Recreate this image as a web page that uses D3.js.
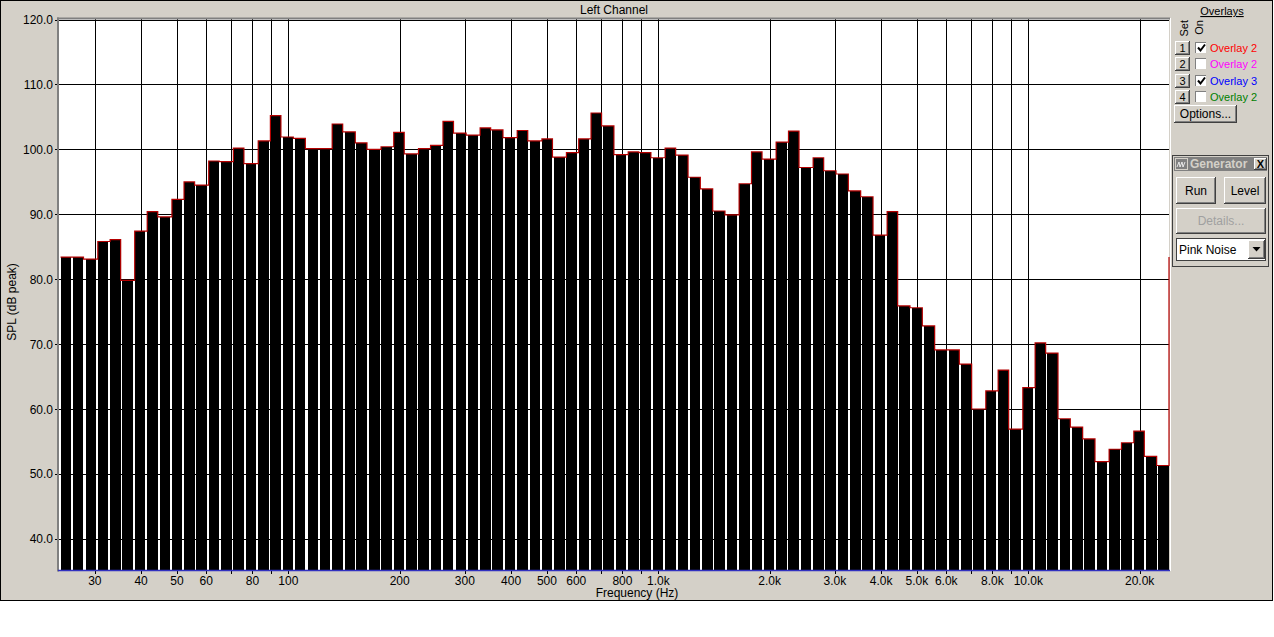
<!DOCTYPE html>
<html>
<head>
<meta charset="utf-8">
<script src="https://cdn.jsdelivr.net/npm/d3@7"></script>
<style>
body { margin: 0; background: #fff; }
svg { display: block; font-family: Arial, "Liberation Sans", sans-serif; }
</style>
</head>
<body>
<div id="vis"></div>
<script>
var width = 1274,
    height = 637;

//--------DATA--------//
// centre frequency of each 1/30 decade band (Hz)
var bandCentres = [
  24.9, 26.9, 29.1, 31.4, 33.9, 36.6, 39.5, 42.7, 46.1, 49.8,
  53.7, 58.0, 62.6, 67.6, 73.0, 78.9, 85.2, 91.9, 99.3, 107,
  116, 125, 135, 146, 157, 170, 183, 198, 214, 231,
  249, 269, 291, 314, 339, 366, 395, 427, 461, 498,
  537, 580, 626, 676, 730, 789, 852, 919, 993, 1072,
  1158, 1250, 1350, 1457, 1574, 1699, 1835, 1981, 2139, 2310,
  2494, 2693, 2908, 3140, 3390, 3661, 3953, 4268, 4608, 4976,
  5373, 5802, 6264, 6764, 7304, 7886, 8516, 9195, 9928, 10720,
  11576, 12499, 13496, 14572, 15736, 16990, 18346, 19810, 21390, 23097
];

// SPL (dB peak) per band
var spl = [
  83.4, 83.4, 83.1, 85.8, 86.1, 79.8, 87.4, 90.4, 89.6, 92.3,
  95.0, 94.5, 98.2, 98.1, 100.2, 97.8, 101.3, 105.2, 101.9, 101.7,
  100.1, 100.1, 103.9, 102.7, 101.0, 100.0, 100.4, 102.6, 99.3, 100.1,
  100.6, 104.3, 102.5, 102.2, 103.3, 103.0, 101.8, 102.9, 101.3, 101.6,
  98.8, 99.5, 101.6, 105.6, 103.6, 99.2, 99.6, 99.5, 98.7, 100.2,
  99.1, 95.7, 93.9, 90.5, 89.9, 94.7, 99.6, 98.5, 101.1, 102.8,
  97.2, 98.7, 96.7, 96.2, 93.6, 92.7, 86.8, 90.4, 75.9, 75.6,
  72.8, 69.1, 69.1, 66.9, 60.0, 62.8, 66.0, 56.9, 63.3, 70.2,
  68.6, 58.5, 57.2, 55.4, 51.9, 53.8, 54.8, 56.6, 52.7, 51.3
];

var gridFreqs = [30, 40, 50, 60, 70, 80, 90, 100, 200, 300, 400, 500, 600, 700, 800, 900,
  1000, 2000, 3000, 4000, 5000, 6000, 7000, 8000, 9000, 10000, 20000];
var labelFreqs = [30, 40, 50, 60, 80, 100, 200, 300, 400, 500, 600, 800,
  1000, 2000, 3000, 4000, 5000, 6000, 8000, 10000, 20000];
var labelText = ["30", "40", "50", "60", "80", "100", "200", "300", "400", "500", "600", "800",
  "1.0k", "2.0k", "3.0k", "4.0k", "5.0k", "6.0k", "8.0k", "10.0k", "20.0k"];
var yTicks = [40, 50, 60, 70, 80, 90, 100, 110, 120];

var overlayNames = ["Overlay 2", "Overlay 2", "Overlay 3", "Overlay 2"];
var overlayColors = ["#ff0000", "#ff00ff", "#0000ff", "#008000"];
var overlayOn = [true, false, true, false];

//--------SETUP--------//
var plotLeft = 59, plotRight = 1169, plotTop = 19.5, plotBottom = 570;
var face = "#d4d0c8";

var svg = d3.select("#vis").append("svg")
    .attr("width", width)
    .attr("height", height);

// window background
svg.append("rect")
    .attr("x", 0.5).attr("y", 0.5)
    .attr("width", 1272).attr("height", 600)
    .attr("fill", face)
    .attr("stroke", "#000");

var x = d3.scaleLog()
    .domain([24, 24000])
    .range([plotLeft, plotRight]);

var y = d3.scaleLinear()
    .domain([35.2, 120])
    .range([plotBottom, plotTop]);

var halfBand = Math.pow(10, 1 / 60);

//--------PLOT AREA--------//
svg.append("rect")
    .attr("x", plotLeft).attr("y", 19)
    .attr("width", plotRight - plotLeft).attr("height", plotBottom - 19)
    .attr("fill", "#fff");

var grid = svg.append("g")
    .attr("stroke", "#000")
    .attr("stroke-width", 1)
    .attr("shape-rendering", "crispEdges");

grid.selectAll(".vgrid")
    .data(gridFreqs)
    .enter()
    .append("line")
    .attr("class", "vgrid")
    .attr("x1", function(d) { return Math.round(x(d)) + 0.5; })
    .attr("x2", function(d) { return Math.round(x(d)) + 0.5; })
    .attr("y1", 19)
    .attr("y2", plotBottom + 4);

grid.selectAll(".hgrid")
    .data(yTicks)
    .enter()
    .append("line")
    .attr("class", "hgrid")
    .attr("x1", plotLeft - 4)
    .attr("x2", plotRight)
    .attr("y1", function(d) { return Math.round(y(d)) + 0.5; })
    .attr("y2", function(d) { return Math.round(y(d)) + 0.5; });

// bars
svg.append("g")
    .attr("shape-rendering", "crispEdges")
  .selectAll("rect")
    .data(spl)
    .enter()
    .append("rect")
    .attr("x", function(d, i) { return x(bandCentres[i] / halfBand) + 1.8; })
    .attr("width", function(d, i) { return x(bandCentres[i] * halfBand) - x(bandCentres[i] / halfBand) - 1.8; })
    .attr("y", function(d) { return y(d); })
    .attr("height", function(d) { return plotBottom - y(d); })
    .attr("fill", "#000");

// red step outline over the bar tops
var pts = [];
spl.forEach(function(v, i) {
    var l = x(bandCentres[i] / halfBand) + 1.8,
        r = x(bandCentres[i] * halfBand);
    if (i > 0) {
        var prev = spl[i - 1];
        if (v > prev) pts.push([l, y(prev)]);
        else pts.push([pts[pts.length - 1][0], y(v)]);
    }
    pts.push([l, y(v)]);
    pts.push([r, y(v)]);
});
pts.push([pts[pts.length - 1][0], y(spl[0])]);

svg.append("path")
    .attr("d", d3.line()(pts))
    .attr("fill", "none")
    .attr("stroke", "#b40000")
    .attr("stroke-width", 1.2);

// sunken frame + blue axis
svg.append("rect").attr("x", 57).attr("y", 17.5).attr("width", 2).attr("height", plotBottom - 16)
    .attr("fill", "#808080");
svg.append("rect").attr("x", 57).attr("y", 17.5).attr("width", plotRight - 56).attr("height", 2)
    .attr("fill", "#808080");
svg.append("line").attr("x1", plotRight + 1.5).attr("x2", plotRight + 1.5).attr("y1", 18).attr("y2", plotBottom + 1)
    .attr("stroke", "#fff");
svg.append("line").attr("x1", 58).attr("x2", plotRight + 1).attr("y1", plotBottom + 0.5).attr("y2", plotBottom + 0.5)
    .attr("stroke", "#3030c0").attr("stroke-width", 1.5);

//--------AXES TEXT--------//
svg.selectAll(".xlab")
    .data(labelFreqs)
    .enter()
    .append("text")
    .attr("class", "xlab")
    .attr("x", function(d) { return x(d); })
    .attr("y", 585)
    .attr("text-anchor", "middle")
    .style("font-size", "12px")
    .text(function(d, i) { return labelText[i]; });

svg.selectAll(".ylab")
    .data(yTicks)
    .enter()
    .append("text")
    .attr("class", "ylab")
    .attr("x", 53)
    .attr("y", function(d) { return y(d) + 4.5; })
    .attr("text-anchor", "end")
    .style("font-size", "12px")
    .text(function(d) { return d3.format(".1f")(d); });

svg.append("text")
    .attr("x", (plotLeft + plotRight) / 2)
    .attr("y", 14)
    .attr("text-anchor", "middle")
    .style("font-size", "12px")
    .text("Left Channel");

svg.append("text")
    .attr("x", 637)
    .attr("y", 597)
    .attr("text-anchor", "middle")
    .style("font-size", "12px")
    .text("Frequency (Hz)");

svg.append("text")
    .attr("transform", "translate(16,302) rotate(-90)")
    .attr("text-anchor", "middle")
    .style("font-size", "12px")
    .text("SPL (dB peak)");

//--------RIGHT PANEL--------//
function button(g, bx, by, bw, bh, label, opts) {
    opts = opts || {};
    var b = g.append("g").attr("shape-rendering", "crispEdges");
    b.append("rect").attr("x", bx).attr("y", by).attr("width", bw).attr("height", bh).attr("fill", face);
    b.append("path").attr("fill", "none").attr("stroke", "#fff")
        .attr("d", "M" + (bx + 0.5) + "," + (by + bh - 1) + "V" + (by + 0.5) + "H" + (bx + bw - 1));
    b.append("path").attr("fill", "none").attr("stroke", "#404040")
        .attr("d", "M" + bx + "," + (by + bh - 0.5) + "H" + (bx + bw - 0.5) + "V" + by);
    b.append("path").attr("fill", "none").attr("stroke", "#808080")
        .attr("d", "M" + (bx + 1) + "," + (by + bh - 1.5) + "H" + (bx + bw - 1.5) + "V" + (by + 1));
    if (label) {
        b.append("text")
            .attr("x", bx + bw / 2)
            .attr("y", by + bh / 2 + (opts.size || 12) * 0.36)
            .attr("text-anchor", "middle")
            .style("font-size", (opts.size || 12) + "px")
            .style("font-weight", opts.bold ? "bold" : "normal")
            .attr("fill", opts.color || "#000")
            .attr("shape-rendering", "auto")
            .text(label);
    }
    return b;
}

var panel = svg.append("g");

panel.append("text")
    .attr("x", 1222).attr("y", 15)
    .attr("text-anchor", "middle")
    .style("font-size", "11px")
    .style("text-decoration", "underline")
    .text("Overlays");

panel.append("text")
    .attr("transform", "translate(1188,20) rotate(-90)")
    .attr("text-anchor", "end")
    .style("font-size", "11px")
    .text("Set");

panel.append("text")
    .attr("transform", "translate(1203,20) rotate(-90)")
    .attr("text-anchor", "end")
    .style("font-size", "11px")
    .text("On");

overlayNames.forEach(function(name, i) {
    var ry = 41 + i * 16.3;
    button(panel, 1175, Math.round(ry), 15, 14, String(i + 1), { size: 11 });
    var cb = panel.append("g").attr("shape-rendering", "crispEdges");
    var cx0 = 1195, cy0 = Math.round(ry) + 1;
    cb.append("rect").attr("x", cx0).attr("y", cy0).attr("width", 12).attr("height", 12).attr("fill", "#fff");
    cb.append("path").attr("fill", "none").attr("stroke", "#808080")
        .attr("d", "M" + (cx0 + 0.5) + "," + (cy0 + 12) + "V" + (cy0 + 0.5) + "H" + (cx0 + 12));
    cb.append("path").attr("fill", "none").attr("stroke", face)
        .attr("d", "M" + cx0 + "," + (cy0 + 11.5) + "H" + (cx0 + 11.5) + "V" + cy0);
    if (overlayOn[i]) {
        panel.append("path")
            .attr("d", "M" + (cx0 + 3) + "," + (cy0 + 5.5) + "l2.5,3 l4.5,-6")
            .attr("fill", "none").attr("stroke", "#000").attr("stroke-width", 2);
    }
    panel.append("text")
        .attr("x", 1210).attr("y", cy0 + 10)
        .style("font-size", "11px")
        .attr("fill", overlayColors[i])
        .text(name);
});

button(panel, 1174, 105, 63, 18, "Options...", { size: 12 });

// generator box
var gen = panel.append("g");
gen.append("rect")
    .attr("x", 1172.5).attr("y", 155.5).attr("width", 96).attr("height", 111)
    .attr("fill", face).attr("stroke", "#404040");
gen.append("rect")
    .attr("x", 1174).attr("y", 157).attr("width", 93).attr("height", 14)
    .attr("fill", "#808080");
gen.append("rect")
    .attr("x", 1175.5).attr("y", 158.5).attr("width", 12).attr("height", 11)
    .attr("fill", "none").attr("stroke", "#d4d0c8");
gen.append("path")
    .attr("d", "M1177,167 l2,-5 l1,5 l2,-5 l1,5 l2,-5")
    .attr("fill", "none").attr("stroke", "#fff").attr("stroke-width", 0.8);
gen.append("clipPath").attr("id", "titleclip")
  .append("rect").attr("x", 1188).attr("y", 156).attr("width", 66).attr("height", 16);
gen.append("text")
    .attr("x", 1190).attr("y", 168)
    .attr("clip-path", "url(#titleclip)")
    .style("font-size", "12px")
    .style("font-weight", "bold")
    .attr("fill", "#d4d0c8")
    .text("Generator");
button(gen, 1254, 158, 13, 12, "X", { size: 11, bold: true });

button(gen, 1176, 177, 40, 27, "Run", { size: 12 });
button(gen, 1224, 177, 42, 27, "Level", { size: 12 });
button(gen, 1176, 208, 90, 26, "Details...", { size: 12, color: "#a0a0a0" });

// select box
gen.append("rect")
    .attr("x", 1176.5).attr("y", 238.5).attr("width", 89).attr("height", 22)
    .attr("fill", "#fff").attr("stroke", "#404040")
    .attr("shape-rendering", "crispEdges");
gen.append("text")
    .attr("x", 1179).attr("y", 254)
    .style("font-size", "12px")
    .text("Pink Noise");
button(gen, 1248, 240, 17, 19, null);
gen.append("path")
    .attr("d", "M1252.5,247 h8 l-4,4.5 z")
    .attr("fill", "#000");
</script>
</body>
</html>
